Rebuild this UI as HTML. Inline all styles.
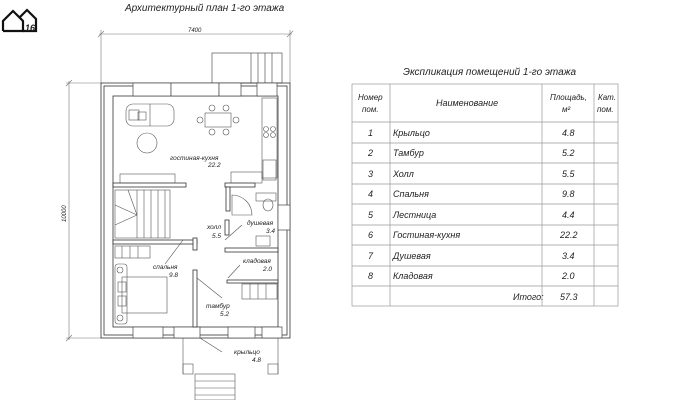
<!DOCTYPE html>
<html><head><meta charset="utf-8"><style>
body{margin:0;background:#fff;width:700px;height:400px;overflow:hidden}
svg{display:block}
text{font-family:"Liberation Sans",sans-serif;font-style:italic;fill:#222}
</style></head><body>
<svg width="700" height="400" viewBox="0 0 700 400" xmlns="http://www.w3.org/2000/svg">
<!-- logo -->
<g stroke="#111" stroke-width="2.2" fill="none">
<polyline points="3,31 3,21 13,11 23,21 23,31 3,31"/>
<polyline points="20,17 27,10 36,19 36,31 23,31"/>
</g>
<text x="25" y="31" font-size="9" font-style="normal" font-weight="bold" fill="#111">16</text>

<text x="125" y="11" font-size="10">Архитектурный план 1-го этажа</text>
<text x="403" y="75" font-size="10">Экспликация помещений 1-го этажа</text>

<!-- dimensions -->
<g stroke="#777" stroke-width="0.6" fill="none">
<line x1="99" y1="34" x2="292" y2="34"/>
<line x1="101" y1="30" x2="101" y2="83"/><line x1="290" y1="30" x2="290" y2="83"/>
<line x1="98" y1="37" x2="104" y2="31"/><line x1="287" y1="37" x2="293" y2="31"/>
<line x1="69" y1="81" x2="69" y2="340"/>
<line x1="66" y1="83" x2="101" y2="83"/><line x1="66" y1="338" x2="101" y2="338"/>
<line x1="66" y1="86" x2="72" y2="80"/><line x1="66" y1="341" x2="72" y2="335"/>
</g>
<text x="188" y="32" font-size="6">7400</text>
<text transform="translate(66,222) rotate(-90)" font-size="6">10000</text>

<!-- top stair -->
<g stroke="#555" stroke-width="0.7" fill="#fff">
<rect x="212" y="53" width="70" height="30"/>
<line x1="251" y1="53" x2="251" y2="83"/><line x1="258" y1="53" x2="258" y2="83"/>
<line x1="265" y1="53" x2="265" y2="83"/><line x1="272" y1="53" x2="272" y2="83"/>
</g>

<!-- walls -->
<g stroke="#333" stroke-width="0.8" fill="none">
<rect x="101" y="83" width="189" height="255"/>
<rect x="104" y="86" width="183" height="249"/>
<rect x="113" y="96" width="165" height="231"/>
</g>
<!-- windows -->
<g stroke="#444" stroke-width="0.7" fill="#fff">
<rect x="133" y="83" width="38" height="13"/>
<rect x="171" y="83" width="48" height="13"/>
<rect x="219" y="83" width="22" height="13"/>
<rect x="257" y="83" width="20" height="13"/>
<rect x="133" y="327" width="30" height="11"/>
<rect x="174" y="327" width="26" height="11"/>
<rect x="228" y="327" width="27" height="11"/>
<rect x="262" y="327" width="20" height="11"/>
<rect x="278" y="205" width="12" height="25"/>
</g>

<!-- interior walls -->
<g stroke="#333" stroke-width="0.8" fill="#fff">
<rect x="113" y="183" width="73" height="4"/>
<rect x="225" y="183" width="30" height="4"/>
<rect x="113" y="240" width="84" height="4"/>
<rect x="193" y="238" width="4" height="12"/>
<rect x="193" y="270" width="4" height="57"/>
<rect x="225" y="220" width="4" height="15"/>
<rect x="225" y="248" width="53" height="4"/>
<rect x="227" y="280" width="51" height="3"/>
<rect x="226" y="187" width="4" height="24"/>
</g>
<g stroke="#555" stroke-width="0.6" fill="none">
<!-- sofa -->
<rect x="126" y="104" width="48" height="22" rx="7"/>
<line x1="150" y1="104" x2="150" y2="126"/>
<rect x="129" y="110" width="10" height="10"/><rect x="138" y="112" width="8" height="8"/>
<circle cx="147" cy="143" r="10"/>
<!-- table -->
<rect x="205" y="113" width="26" height="14"/>
<circle cx="212" cy="108" r="3"/><circle cx="226" cy="108" r="3"/>
<circle cx="212" cy="132" r="3"/><circle cx="226" cy="132" r="3"/>
<circle cx="200" cy="120" r="3"/><circle cx="236" cy="120" r="3"/>
<!-- kitchen -->
<rect x="262" y="98" width="15" height="80"/>
<circle cx="266" cy="129" r="2.5"/><circle cx="273" cy="129" r="2.5"/>
<circle cx="266" cy="135" r="2.5"/><circle cx="273" cy="135" r="2.5"/>
<rect x="263" y="160" width="13" height="20"/>
<rect x="231" y="172" width="31" height="11"/>
<!-- tv -->
<rect x="120" y="174" width="55" height="9"/>
<!-- stairs -->
<rect x="115" y="190" width="55" height="48"/>
<line x1="137" y1="190" x2="137" y2="238"/><line x1="144" y1="190" x2="144" y2="238"/>
<line x1="151" y1="190" x2="151" y2="238"/><line x1="158" y1="190" x2="158" y2="238"/>
<line x1="165" y1="190" x2="165" y2="238"/>
<line x1="115" y1="205" x2="137" y2="215"/><line x1="115" y1="225" x2="137" y2="215"/>
<line x1="128" y1="190" x2="137" y2="215"/>
<!-- shower/wc -->
<path d="M232,195 L232,215 L252,215 A20,20 0 0 0 232,195Z"/>
<ellipse cx="268" cy="205" rx="5" ry="6"/>
<rect x="256" y="193" width="20" height="8"/>
<rect x="256" y="236" width="14" height="10"/>
<!-- wardrobes -->
<rect x="115" y="246" width="35" height="12"/>
<line x1="122" y1="246" x2="122" y2="258"/><line x1="130" y1="246" x2="130" y2="258"/><line x1="138" y1="246" x2="138" y2="258"/>
<rect x="242" y="284" width="35" height="15"/>
<line x1="250" y1="284" x2="250" y2="299"/><line x1="258" y1="284" x2="258" y2="299"/><line x1="266" y1="284" x2="266" y2="299"/>
<!-- bed -->
<rect x="115" y="264" width="12" height="60" rx="3"/>
<rect x="122" y="277" width="45" height="36"/>
<rect x="118" y="282" width="8" height="10"/><rect x="118" y="296" width="8" height="10"/>
<circle cx="120" cy="270" r="3"/><circle cx="120" cy="318" r="3"/>
<!-- door swings -->
<line x1="183" y1="240" x2="165" y2="264"/>
<line x1="225" y1="240" x2="242" y2="225"/>
<line x1="197" y1="278" x2="222" y2="298"/>
<line x1="228" y1="278" x2="240" y2="265"/>
<line x1="200" y1="338" x2="222" y2="352"/>
<!-- porch -->
<line x1="183" y1="338" x2="183" y2="374"/><line x1="278" y1="338" x2="278" y2="374"/>
<rect x="183" y="364" width="10" height="10"/><rect x="268" y="364" width="10" height="10"/>
<rect x="195" y="374" width="40" height="26"/>
<line x1="195" y1="381" x2="235" y2="381"/><line x1="195" y1="388" x2="235" y2="388"/><line x1="195" y1="395" x2="235" y2="395"/>
</g>

<!-- room labels -->
<g font-size="6.5">
<text x="170" y="160">гостиная-кухня</text><text x="208" y="167">22.2</text>
<text x="207" y="229">холл</text><text x="212" y="238">5.5</text>
<text x="247" y="225">душевая</text><text x="266" y="233">3.4</text>
<text x="243" y="263">кладовая</text><text x="263" y="271">2.0</text>
<text x="153" y="269">спальня</text><text x="169" y="277">9.8</text>
<text x="206" y="308">тамбур</text><text x="220" y="316">5.2</text>
<text x="234" y="354">крыльцо</text><text x="252" y="362">4.8</text>
</g>

<!-- table -->
<g stroke="#999" stroke-width="0.7" fill="none">
<rect x="352" y="84" width="266" height="222"/>
<line x1="390" y1="84" x2="390" y2="306"/>
<line x1="542" y1="84" x2="542" y2="306"/>
<line x1="594" y1="84" x2="594" y2="306"/>
<line x1="352" y1="122" x2="618" y2="122"/>
<line x1="352" y1="143" x2="618" y2="143"/>
<line x1="352" y1="163" x2="618" y2="163"/>
<line x1="352" y1="184" x2="618" y2="184"/>
<line x1="352" y1="204" x2="618" y2="204"/>
<line x1="352" y1="225" x2="618" y2="225"/>
<line x1="352" y1="245" x2="618" y2="245"/>
<line x1="352" y1="266" x2="618" y2="266"/>
<line x1="352" y1="286" x2="618" y2="286"/>
</g>
<g font-size="8">
<text x="358" y="100">Номер</text><text x="362" y="112">пом.</text>
<text x="436" y="106" font-size="9">Наименование</text>
<text x="550" y="100">Площадь,</text><text x="562" y="112">м²</text>
<text x="598" y="100">Кат.</text><text x="597" y="112">пом.</text>
<g font-size="9">
<text x="368" y="136">1</text><text x="393" y="136">Крыльцо</text><text x="562" y="136">4.8</text>
<text x="368" y="156">2</text><text x="393" y="156">Тамбур</text><text x="562" y="156">5.2</text>
<text x="368" y="177">3</text><text x="393" y="177">Холл</text><text x="562" y="177">5.5</text>
<text x="368" y="197">4</text><text x="393" y="197">Спальня</text><text x="562" y="197">9.8</text>
<text x="368" y="218">5</text><text x="393" y="218">Лестница</text><text x="562" y="218">4.4</text>
<text x="368" y="238">6</text><text x="393" y="238">Гостиная-кухня</text><text x="560" y="238">22.2</text>
<text x="368" y="259">7</text><text x="393" y="259">Душевая</text><text x="562" y="259">3.4</text>
<text x="368" y="279">8</text><text x="393" y="279">Кладовая</text><text x="562" y="279">2.0</text>
<text x="513" y="300">Итого:</text><text x="560" y="300">57.3</text>
</g>
</g>
</svg>
</body></html>
